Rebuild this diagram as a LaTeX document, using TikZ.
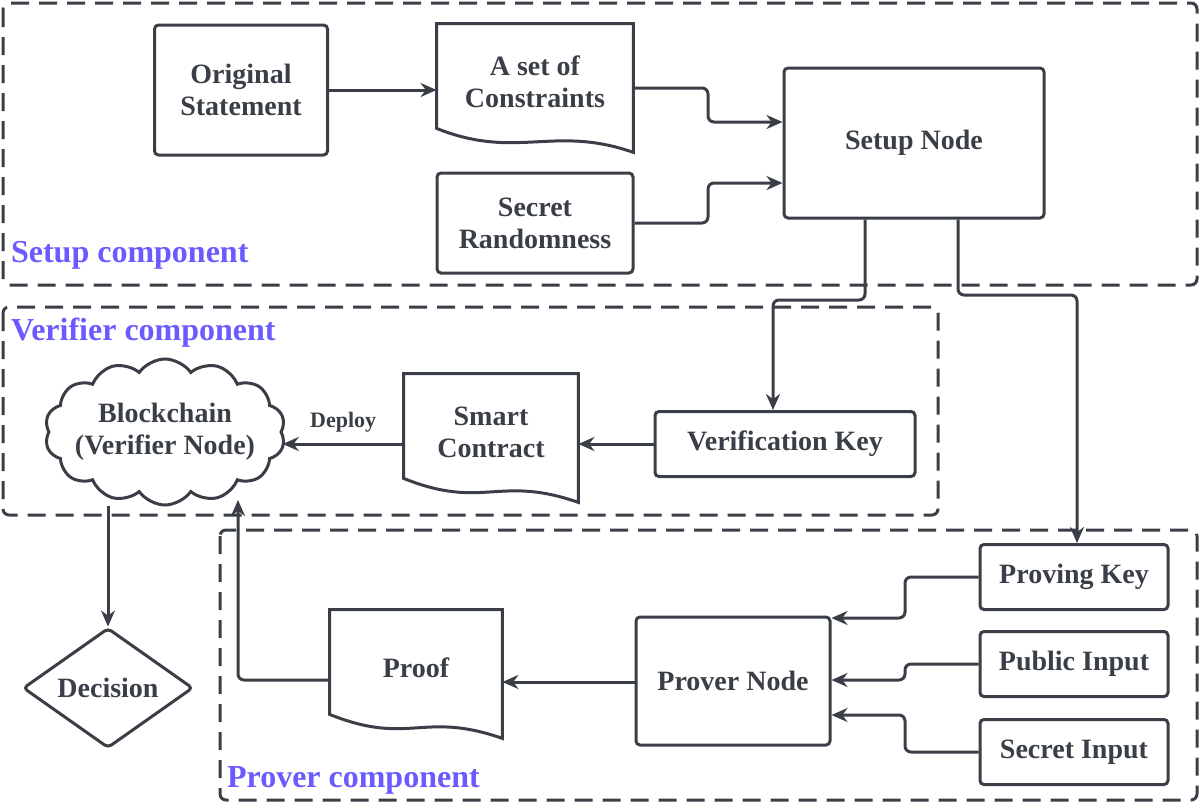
\documentclass[tikz,border=0pt]{standalone}
\usepackage{fontspec}
\setmainfont{Liberation Serif}
\usetikzlibrary{shapes.geometric,shapes.symbols,arrows.meta}
\definecolor{ink}{HTML}{3A3F47}
\definecolor{lbl}{HTML}{6B5BFF}
\tikzset{
  block/.style={rectangle, rounded corners=2pt, draw=ink, line width=1.5pt, align=center, font=\bfseries\fontsize{14}{16}\selectfont, text=ink},
  doc/.style={rectangle, draw=none, align=center, font=\bfseries\fontsize{14}{16}\selectfont, text=ink},
  frame/.style={draw=ink, line width=1.5pt, dash pattern=on 9pt off 5pt, rounded corners=3pt},
  arrow/.style={draw=ink, line width=1.5pt, -{Stealth[length=8pt,width=7pt]}, rounded corners=3pt},
  comp/.style={anchor=west, text=lbl, font=\bfseries\fontsize{16}{18}\selectfont}
}
\newcommand{\docoutline}[1]{%
  \draw[ink, line width=1.5pt] ([yshift=6pt]#1.south west) -- (#1.north west) -- (#1.north east) -- ([yshift=-6pt]#1.south east)
    .. controls ([xshift=-40pt,yshift=8pt]#1.south east) and ([xshift=40pt,yshift=-10pt]#1.south west) .. ([yshift=6pt]#1.south west) -- cycle;}
\begin{document}
\begin{tikzpicture}[x=0.5pt,y=-0.5pt]
\useasboundingbox (0,0) rectangle (1200,803);
% frames
\draw[frame] (3,3) rectangle (1197,285);
\draw[frame] (3,307) rectangle (938,515);
\draw[frame] (220,530) rectangle (1197,800);
\node[comp] at (4,255) {Setup component};
\node[comp] at (4,333) {Verifier component};
\node[comp] at (220,780) {Prover component};

% setup
\node (orig) [block, minimum width=86.5pt, minimum height=65pt] at (241,90) {Original\\Statement};
\node (cons) [doc, minimum width=98pt, minimum height=58pt] at (535,82) {A set of\\Constraints};
\docoutline{cons}
\node (rand) [block, minimum width=98pt, minimum height=50pt] at (535,223) {Secret\\Randomness};
\node (setup) [block, minimum width=130pt, minimum height=75pt] at (914,143) {Setup Node};

% verifier
\node (vkey) [block, minimum width=130pt, minimum height=32.5pt] at (785,444) {Verification Key};
\node (smart) [doc, minimum width=87pt, minimum height=58pt] at (491,432) {Smart\\Contract};
\docoutline{smart}
\node (chain) [cloud, cloud puffs=14, cloud puff arc=110, aspect=1.9, draw=ink, line width=1.5pt, align=center, inner sep=-4pt, font=\bfseries\fontsize{14}{16}\selectfont, text=ink] at (165,432) {Blockchain\\(Verifier Node)};
\node (dec) [diamond, draw=ink, line width=1.5pt, aspect=1.45, minimum width=85pt, minimum height=60pt, inner sep=1pt, rounded corners=2pt, font=\bfseries\fontsize{14}{16}\selectfont, text=ink] at (108,688) {Decision};

% prover
\node (proof) [doc, minimum width=86pt, minimum height=58pt] at (416,668) {Proof};
\docoutline{proof}
\node (prover) [block, minimum width=97pt, minimum height=64pt] at (733,681) {Prover Node};
\node (pkey) [block, minimum width=94pt, minimum height=32.5pt] at (1074,577) {Proving Key};
\node (pub) [block, minimum width=94pt, minimum height=32.5pt] at (1074,664) {Public Input};
\node (sec) [block, minimum width=94pt, minimum height=32.5pt] at (1074,752) {Secret Input};

\draw[arrow] (orig) -- (cons.west |- orig);
\draw[arrow] (cons.east |- 0,88) -| (708,122) -- (setup.west |- 0,122);
\draw[arrow] (rand.east) -| (708,183) -- (setup.west |- 0,183);
\draw[arrow] (setup.south -| 865,0) |- (773,300) -- (vkey.north -| 773,0);
\draw[arrow] (setup.south -| 958,0) |- (1077,295) -- (pkey.north -| 1077,0);
\draw[arrow] (vkey) -- (smart.east |- vkey);
\draw[arrow] (smart.west |- 0,444) -- (chain.east |- 0,444) node[midway, above, font=\bfseries\fontsize{11}{13}\selectfont, text=ink, yshift=2pt] {Deploy};
\draw[arrow] (chain.south -| 108,0) -- (dec.north);
\draw[arrow] (proof.west |- 0,680) -| (238,500);
\draw[arrow] (prover.west |- 0,682) -- (proof.east |- 0,682);
\draw[arrow] (pkey.west) -| (905,618) -- (prover.east |- 0,618);
\draw[arrow] (pub.west) -| (905,680) -- (prover.east |- 0,680);
\draw[arrow] (sec.west) -| (905,715) -- (prover.east |- 0,715);
\end{tikzpicture}
\end{document}
